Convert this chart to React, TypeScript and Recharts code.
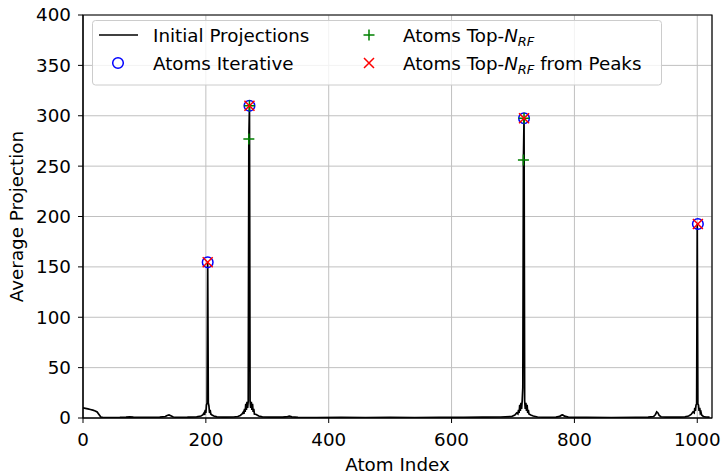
import {
  ComposedChart,
  Line,
  Scatter,
  XAxis,
  YAxis,
  CartesianGrid,
  ReferenceArea,
} from "recharts";

// average projection per atom index
const PROJ_X = [
  0, 4, 8, 12, 16, 20, 23, 26, 29, 32, 45, 60, 70, 76, 82, 95, 110, 125, 134, 137, 140, 143, 147, 155, 170,
  185, 192, 195, 197, 198, 199, 200, 201, 202, 203, 204, 205, 206, 207, 208, 210, 213, 218, 230, 245, 252,
  256, 259, 261, 262, 263, 264, 265, 266, 267, 268, 269, 270, 271, 272, 273, 274, 275, 276, 277, 278, 279,
  282, 286, 292, 305, 325, 333, 336, 340, 350, 380, 420, 460, 500, 540, 580, 620, 650, 680, 698, 703, 706,
  708, 709, 710, 711, 712, 713, 714, 715, 716, 717, 718, 719, 720, 721, 722, 723, 724, 725, 726, 729, 733,
  740, 755, 770, 776, 779, 781, 784, 790, 820, 860, 900, 920, 929, 932, 934, 936, 938, 941, 950, 970, 980,
  986, 990, 993, 995, 996, 997, 998, 999, 1000, 1001, 1002, 1003, 1004, 1005, 1006, 1007, 1010, 1014, 1020,
  1023,
];
const PROJ_Y = [
  10, 9.6, 9, 8.4, 7.8, 7, 6, 3.5, 1, 0.6, 0.5, 0.6, 0.9, 1.2, 0.8, 0.6, 0.7, 0.8, 1.5, 2.5, 3, 2.2, 1, 0.7,
  0.8, 1.2, 2, 3, 5, 3, 8, 5, 13, 15, 154.5, 15, 12, 5, 8, 4, 3, 2, 1.2, 0.8, 1, 1.5, 2.5, 4, 6, 4, 9, 6, 14,
  8, 16, 10, 17, 277, 310, 17, 10, 16, 8, 14, 6, 9, 4, 3.5, 2, 1.2, 0.8, 0.8, 1.4, 1.8, 1.2, 0.6, 0.5, 0.6,
  0.5, 0.6, 0.5, 0.7, 0.6, 0.8, 1, 1.5, 3, 5, 4, 8, 5, 13, 7, 15, 9, 17, 30, 256, 297.5, 17, 9, 15, 7, 13,
  5, 8, 4, 3, 2, 1, 0.7, 0.8, 1.6, 2.8, 3, 1.8, 0.8, 0.6, 0.5, 0.6, 0.8, 1.5, 3.5, 6, 5, 2.5, 1.2, 0.8, 0.8,
  1.2, 2, 3.5, 6, 5, 10, 7, 13, 14, 192.5, 14, 13, 7, 10, 5, 6, 3, 1.5, 1, 0.8,
];

const ITER_X = [203, 271, 718, 1001];
const ITER_Y = [154.5, 310, 297.5, 192.5];

const TOPN_X = [271, 270, 718, 717];
const TOPN_Y = [310, 277, 297.5, 256];

const PEAKS_X = [203, 271, 718, 1001];
const PEAKS_Y = [154.5, 310, 297.5, 192.5];

const X_TICKS = [0, 200, 400, 600, 800, 1000];
const Y_TICKS = [0, 50, 100, 150, 200, 250, 300, 350, 400];

const zip = (xs: number[], ys: number[]) => xs.map((x, i) => ({ x, y: ys[i] }));

const projData = zip(PROJ_X, PROJ_Y);
const iterData = zip(ITER_X, ITER_Y);
const topnData = zip(TOPN_X, TOPN_Y);
const peaksData = zip(PEAKS_X, PEAKS_Y);

const FONT = 18.3;

const circleShape = (p: any) => (
  <circle cx={p.cx} cy={p.cy} r={5.3} fill="none" stroke="#0000ff" strokeWidth={1.5} />
);
const plusShape = (p: any) => (
  <path
    d={`M${p.cx - 5.5},${p.cy}H${p.cx + 5.5}M${p.cx},${p.cy - 5.5}V${p.cy + 5.5}`}
    stroke="#008000"
    strokeWidth={1.5}
    fill="none"
  />
);
const crossShape = (p: any) => (
  <path
    d={`M${p.cx - 5},${p.cy - 5}L${p.cx + 5},${p.cy + 5}M${p.cx - 5},${p.cy + 5}L${p.cx + 5},${p.cy - 5}`}
    stroke="#ff0000"
    strokeWidth={1.5}
    fill="none"
  />
);

function LegendBox() {
  const txt = { fontSize: FONT, fill: "#000" };
  return (
    <svg
      width={721}
      height={474}
      style={{ position: "absolute", left: 0, top: 0, pointerEvents: "none" }}
    >
      <rect x={92.5} y={20.5} width={569} height={64.5} rx={3} fill="#ffffff" fillOpacity={0.8} stroke="#cccccc" />
      <line x1={99} x2={138} y1={35} y2={35} stroke="#000" strokeWidth={1.5} />
      <text x={153} y={42} {...txt}>Initial Projections</text>
      <circle cx={118} cy={63} r={5.3} fill="none" stroke="#0000ff" strokeWidth={1.5} />
      <text x={153} y={70} {...txt}>Atoms Iterative</text>
      {plusShape({ cx: 369, cy: 35 })}
      <text x={403} y={42} {...txt}>
        Atoms Top-<tspan fontStyle="italic">N</tspan>
        <tspan fontStyle="italic" fontSize={13} dy={4}>RF</tspan>
      </text>
      {crossShape({ cx: 369, cy: 63 })}
      <text x={403} y={70} {...txt}>
        Atoms Top-<tspan fontStyle="italic">N</tspan>
        <tspan fontStyle="italic" fontSize={13} dy={4}>RF</tspan>
        <tspan dy={-4}> from Peaks</tspan>
      </text>
    </svg>
  );
}

export default function App() {
  return (
    <div
      style={{
        position: "absolute",
        left: 0,
        top: 0,
        width: 721,
        height: 474,
        background: "#fff",
        fontFamily: "'DejaVu Sans', sans-serif",
      }}
    >
      <ComposedChart width={721} height={474} margin={{ top: 15, right: 9, bottom: 0, left: 0 }}>
        <CartesianGrid stroke="#c0c0c0" strokeWidth={1} />
        <XAxis
          type="number"
          dataKey="x"
          domain={[0, 1024]}
          ticks={X_TICKS}
          allowDataOverflow
          height={56}
          tickSize={5}
          tickMargin={10}
          stroke="#000"
          tick={{ fontSize: FONT, fill: "#000" }}
          label={{ value: "Atom Index", position: "insideBottom", offset: 3.5, fontSize: FONT, fill: "#000" }}
        />
        <YAxis
          type="number"
          dataKey="y"
          domain={[0, 400]}
          ticks={Y_TICKS}
          allowDataOverflow
          width={83}
          tickSize={5}
          tickMargin={7}
          stroke="#000"
          tick={{ fontSize: FONT, fill: "#000" }}
          label={{
            value: "Average Projection",
            angle: -90,
            position: "insideLeft",
            offset: 17,
            fontSize: FONT,
            fill: "#000",
            style: { textAnchor: "middle" },
          }}
        />
        <Line
          data={projData}
          dataKey="y"
          type="linear"
          stroke="#000"
          strokeWidth={1.7}
          dot={false}
          isAnimationActive={false}
        />
        <Scatter data={iterData} dataKey="y" shape={circleShape} isAnimationActive={false} />
        <Scatter data={topnData} dataKey="y" shape={plusShape} isAnimationActive={false} />
        <Scatter data={peaksData} dataKey="y" shape={crossShape} isAnimationActive={false} />
        <ReferenceArea x1={0} x2={1024} y1={0} y2={400} fill="none" stroke="#000" strokeWidth={1.2} ifOverflow="visible" />
      </ComposedChart>
      <LegendBox />
    </div>
  );
}
